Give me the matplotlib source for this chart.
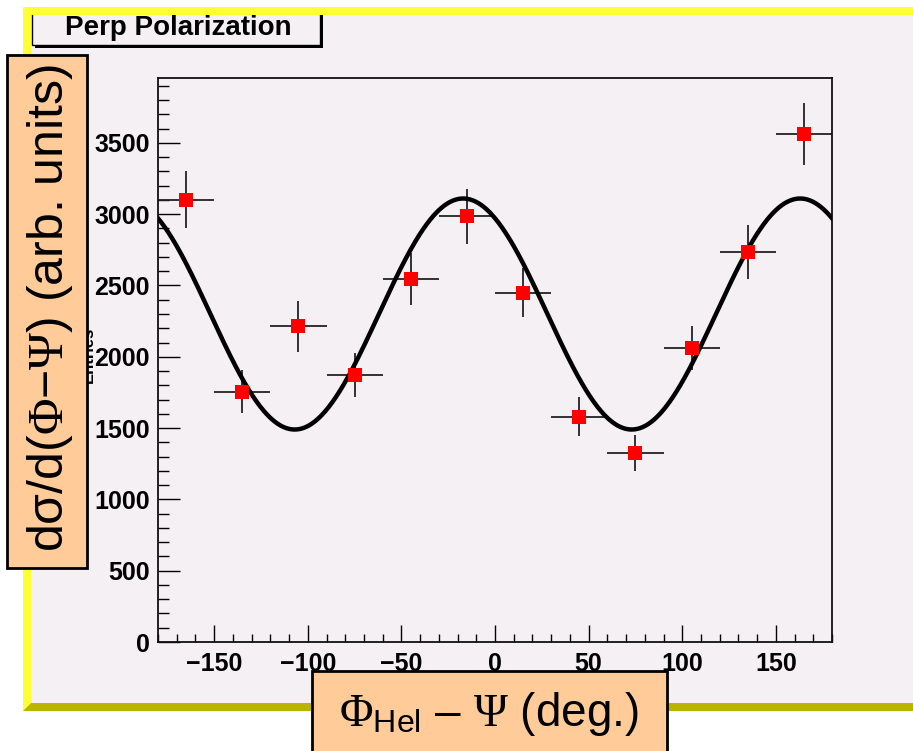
"""
Perp polarization: d sigma / d(Phi - Psi) vs Phi_Hel - Psi, with cos(2x) fit.
ROOT-style canvas recreated in matplotlib.
"""

import numpy as np
import matplotlib
matplotlib.use("Agg")
import matplotlib.pyplot as plt
from matplotlib.patches import Rectangle, Polygon
from matplotlib.ticker import MultipleLocator

plt.rcParams["font.family"] = ["Liberation Sans", "DejaVu Sans"]
plt.rcParams["mathtext.fontset"] = "custom"
plt.rcParams["mathtext.rm"] = "Liberation Serif"
plt.rcParams["mathtext.it"] = "Liberation Serif:italic"
plt.rcParams["mathtext.bf"] = "Liberation Serif:bold"
plt.rcParams["mathtext.sf"] = "Liberation Sans"

# --- data ----------------------------------------------------------------
phi_bins = [-165, -135, -105, -75, -45, -15, 15, 45, 75, 105, 135, 165]
bin_half = [15] * 12
counts = [3100, 1755, 2215, 1875, 2545, 2985, 2450, 1580, 1325, 2060, 2735, 3565]
count_err = [200, 150, 178, 155, 180, 195, 170, 137, 125, 154, 188, 217]

# fit: A + B cos(2 (x - x0))
fit_A = 2300.0
fit_B = 810.0
fit_x0 = -17.0

W, H = 913, 751
BG = "#f4f0f4"
YELLOW = "#ffff33"
OLIVE = "#b8b400"
ORANGE = "#ffcc99"


def box(x0, y0, x1, y1):
    """pixel box (top-left origin) -> figure-fraction rectangle args"""
    return (x0 / W, 1 - y1 / H), (x1 - x0) / W, (y1 - y0) / H


def pts(coords):
    return [(x / W, 1 - y / H) for x, y in coords]


fig = plt.figure(figsize=(W / 100, H / 100), dpi=100)
fig.patch.set_facecolor("white")

# canvas pad with bevelled border
xy, w, h = box(31, 15, 913, 703)
fig.add_artist(Rectangle(xy, w, h, transform=fig.transFigure,
                         facecolor=BG, edgecolor="none", zorder=-2))
fig.add_artist(Polygon(pts([(23, 7), (913, 7), (913, 15), (31, 15), (31, 703), (23, 711)]),
                       closed=True, transform=fig.transFigure,
                       facecolor=YELLOW, edgecolor="none", zorder=3))
fig.add_artist(Polygon(pts([(23, 711), (913, 711), (913, 703), (31, 703)]),
                       closed=True, transform=fig.transFigure,
                       facecolor=OLIVE, edgecolor="none", zorder=3))

# title box with shadow
xy, w, h = box(35, 13, 323, 48)
fig.add_artist(Rectangle(xy, w, h, transform=fig.transFigure,
                         facecolor="black", edgecolor="none", zorder=2))
xy, w, h = box(32, 10, 320, 45)
fig.add_artist(Rectangle(xy, w, h, transform=fig.transFigure,
                         facecolor=BG, edgecolor="black", linewidth=1.0, zorder=2.5))
fig.text(178 / W, 1 - 28 / H, "Perp Polarization", fontsize=20, fontweight="bold",
         ha="center", va="center", zorder=4)

# main axes
ax = fig.add_axes([158 / W, 1 - 642 / H, 674 / W, 564 / H])
ax.set_facecolor(BG)
ax.set_xlim(-180, 180)
ax.set_ylim(0, 3955)

xs = np.linspace(-180, 180, 721)
ax.plot(xs, fit_A + fit_B * np.cos(np.radians(2 * (xs - fit_x0))),
        color="black", linewidth=3.2, zorder=3)

ax.errorbar(phi_bins, counts, xerr=bin_half, yerr=count_err, fmt="none",
            ecolor="#222222", elinewidth=1.3, capsize=0, zorder=2)
ax.plot(phi_bins, counts, linestyle="none", marker="s", markersize=10,
        color="#ff0000", markeredgewidth=0, zorder=4)

for s in ax.spines.values():
    s.set_linewidth(1.3)
    s.set_color("#111111")

ax.xaxis.set_major_locator(MultipleLocator(50))
ax.xaxis.set_minor_locator(MultipleLocator(10))
ax.yaxis.set_major_locator(MultipleLocator(500))
ax.yaxis.set_minor_locator(MultipleLocator(100))
ax.tick_params(axis="x", which="major", direction="in", length=12, width=1.0, pad=7,
               labelsize=18)
ax.tick_params(axis="x", which="minor", direction="in", length=6, width=1.0)
ax.tick_params(axis="y", which="major", direction="in", length=16, width=1.0, pad=6,
               labelsize=18)
ax.tick_params(axis="y", which="minor", direction="in", length=8, width=1.0)
for lab in ax.get_xticklabels() + ax.get_yticklabels():
    lab.set_fontweight("bold")

# leftover ROOT y title peeking out from behind the label box
fig.text(88 / W, 1 - 355 / H, "Entries", rotation=90, fontsize=12, fontweight="bold",
         ha="center", va="center", zorder=4)

# y label box
xy, w, h = box(7, 55, 87, 568)
fig.add_artist(Rectangle(xy, w, h, transform=fig.transFigure,
                         facecolor=ORANGE, edgecolor="black", linewidth=2.0, zorder=5))
fig.text(50 / W, 1 - 308 / H, "d\u03c3/d(" + r"$\Phi$" + "\u2212" + r"$\Psi$) (arb. units)",
         rotation=90, fontsize=36, ha="center", va="center", zorder=6)

# x label box
xy, w, h = box(312, 671, 667, 760)
fig.add_artist(Rectangle(xy, w, h, transform=fig.transFigure,
                         facecolor=ORANGE, edgecolor="black", linewidth=2.0, zorder=5))
fig.text(489 / W, 1 - 714 / H, r"$\Phi_{\mathsf{Hel}}$ – $\Psi$ (deg.)",
         fontsize=33, ha="center", va="center", zorder=6)

fig.savefig("out.png", dpi=100)
